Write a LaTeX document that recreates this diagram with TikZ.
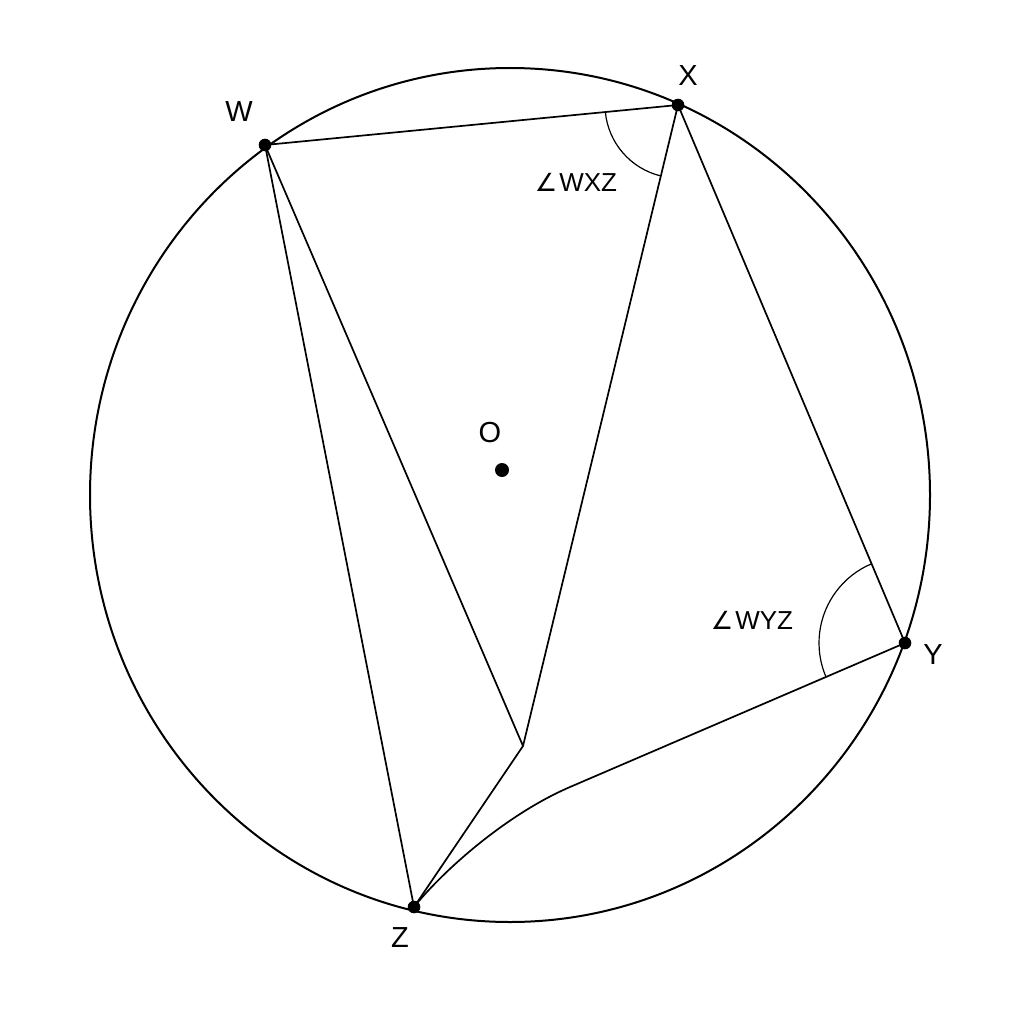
\documentclass[tikz,border=0pt]{standalone}
\usepackage{fontspec}
\setmainfont{Liberation Sans}
\newfontfamily\symfam{DejaVu Sans}
\newcommand{\angsym}{{\symfam\fontsize{25}{25}\selectfont ∠}}
\begin{document}
\begin{tikzpicture}[x=1pt,y=-1pt,
  dot/.style={circle,fill=black,inner sep=0pt,minimum size=12.6pt},
  bigdot/.style={circle,fill=black,inner sep=0pt,minimum size=14pt},
  seg/.style={line width=1.7pt,line join=round},
  rim/.style={line width=2pt},
  anglearc/.style={line width=1.2pt},
  ptlabel/.style={font=\fontsize{29}{29}\selectfont,inner sep=0pt},
  anglabel/.style={font=\fontsize{26}{26}\selectfont,inner sep=0pt}]
\useasboundingbox (0,0) rectangle (1024,1024);
\fill[white] (0,0) rectangle (1024,1024);
% circle
\coordinate (C) at (510,495);
\draw[rim] (C) ellipse [x radius=420pt, y radius=427pt];
% points
\node[dot] (W) at (265,145) {};
\node[dot] (X) at (678,105) {};
\node[dot] (Y) at (905,643) {};
\node[dot] (Z) at (414,907) {};
\node[bigdot] (O) at (502,470) {};
\coordinate (P) at (523,746);
\coordinate (Q) at (570,787);
% segments
\draw[seg] (W.center) -- (X.center);
\draw[seg] (W.center) -- (Z.center);
\draw[seg] (W.center) -- (P) -- (X.center);
\draw[seg] (P) -- (Z.center);
\draw[seg] (X.center) -- (Y.center);
\draw[seg] (Z.center) .. controls (442,872) and (505,815) .. (Q) -- (Y.center);
% angle arcs
\draw[anglearc] (X.center) ++(185.5:73pt) arc[start angle=185.5, end angle=256.4, radius=73pt];
\draw[anglearc] (Y.center) ++(112.9:86pt) arc[start angle=112.9, end angle=203.2, radius=86pt];
% labels
\node[ptlabel] (LW) at (239,112) {W};
\node[ptlabel] (LX) at (688,76) {X};
\node[ptlabel] (LY) at (933,655) {Y};
\node[ptlabel] (LZ) at (400,938) {Z};
\node[ptlabel] (LO) at (490,433) {O};
\node[anglabel] (AX) at (576,182) {\angsym\kern2pt WXZ};
\node[anglabel] (AY) at (752,620) {\angsym\kern2pt WYZ};
\end{tikzpicture}
\end{document}
